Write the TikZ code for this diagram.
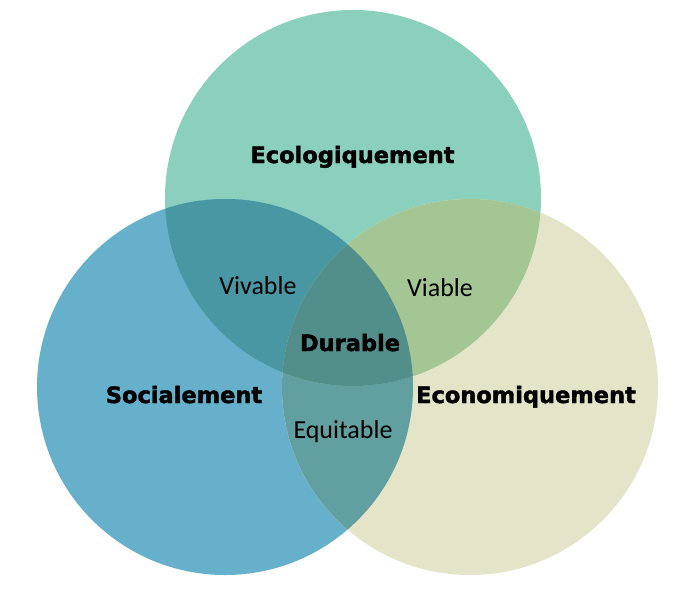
\documentclass[tikz,border=0pt]{standalone}
\usepackage{fontspec}
\usepackage{tikz}
\setmainfont{Carlito}
\newfontfamily\heavyfont{DejaVu Sans}[BoldFeatures={FakeBold=1.8}]
\definecolor{ecofill}{HTML}{8AD0BD}
\definecolor{socfill}{HTML}{67B0CC}
\definecolor{econfill}{HTML}{E4E4C9}
\definecolor{ecosocfill}{HTML}{4A97A4}
\definecolor{ecoeconfill}{HTML}{A4C694}
\definecolor{soceconfill}{HTML}{629FA0}
\definecolor{allfill}{HTML}{538F8A}

\begin{document}
\begin{tikzpicture}
[x=1pt,y=1pt]
\tikzset{
	pillar/.style = {font=\heavyfont\bfseries\fontsize{22.5}{27}\selectfont, anchor=base, inner sep=0},
	overlap/.style = {font=\fontsize{26}{31}\selectfont, anchor=base, inner sep=0}
}
\useasboundingbox (0,0) rectangle (684,590);

\coordinate (ecologie) at (353,392);
\coordinate (social) at (225,203);
\coordinate (economie) at (470,203);

\fill[ecofill] (ecologie) circle (188);
\fill[socfill] (social) circle (188);
\fill[econfill] (economie) circle (188);

% overlaps
\begin{scope}
	\clip (social) circle (188);
	\fill[soceconfill] (economie) circle (188);
\end{scope}
\begin{scope}
	\clip (ecologie) circle (188);
	\fill[ecosocfill] (social) circle (188);
	\fill[ecoeconfill] (economie) circle (188);
	\clip (social) circle (188);
	\fill[allfill] (economie) circle (188);
\end{scope}

\node[pillar] (ecolabel) at (352.5,427) {Ecologiquement};
\node[pillar] (soclabel) at (184,187) {Socialement};
\node[pillar] (econlabel) at (526,187) {Economiquement};
\node[pillar] (durable) at (350,239) {Durable};
\node[overlap] (vivable) at (258,296) {Vivable};
\node[overlap] (viable) at (440,294) {Viable};
\node[overlap] (equitable) at (343,152) {Equitable};

\end{tikzpicture}
\end{document}
